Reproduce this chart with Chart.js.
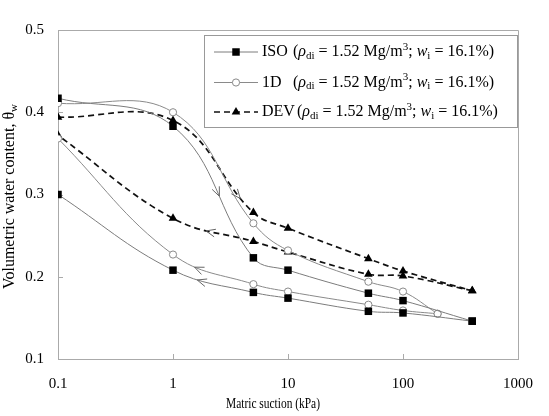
<!DOCTYPE html>
<html><head><meta charset="utf-8">
<script src="https://cdn.jsdelivr.net/npm/chart.js@4/dist/chart.umd.min.js"></script>
<style>html,body{margin:0;padding:0;background:#fff}#wrap{position:relative;width:549px;height:416px}</style>
</head><body><div id="wrap"><canvas id="c" width="549" height="416"></canvas></div>
<script>
// ---- data ----
const isoDrySuction=[0.1,1,5,10,50,100,400];
const isoDryTheta=[0.417,0.383,0.223,0.208,0.180,0.171,0.146];
const isoWetSuction=[400,100,50,10,5,1,0.1];
const isoWetTheta=[0.146,0.156,0.158,0.174,0.181,0.208,0.300];
const idDrySuction=[0.1,1,5,10,50,100,200];
const idDryTheta=[0.411,0.400,0.265,0.232,0.194,0.182,0.155];
const idWetSuction=[200,100,50,10,5,1,0.1];
const idWetTheta=[0.155,0.159,0.166,0.182,0.191,0.227,0.368];
const devDrySuction=[0.1,1,5,10,50,100,400];
const devDryTheta=[0.394,0.390,0.278,0.259,0.222,0.207,0.183];
const devWetSuction=[400,100,50,10,5,1,0.1];
const devWetTheta=[0.183,0.201,0.203,0.230,0.243,0.271,0.372];
const xTicks=[0.1,1,10,100,1000];
const yTicks=[0.1,0.2,0.3,0.4,0.5];
const seriesNames=['ISO','1D','DEV'];
const xTitle='Matric suction (kPa)';
const yTitle='Volumetric water content, θ';
const yTitleSub='w';

const FONT='"Liberation Serif","Times New Roman",serif';
const mk=(xs,ys)=>xs.map((x,i)=>({x:x,y:ys[i]}));

const styles={
  ISO:{borderColor:'#7c7c7c',borderWidth:1,borderDash:[],pointStyle:'rect',pointRadius:5.3,pointBackgroundColor:'#000',pointBorderColor:'#000',pointBorderWidth:0},
  '1D':{borderColor:'#8a8a8a',borderWidth:1,borderDash:[],pointStyle:'circle',pointRadius:3.6,pointBackgroundColor:'#fff',pointBorderColor:'#8a8a8a',pointBorderWidth:1},
  DEV:{borderColor:'#111',borderWidth:1.7,borderDash:[6,4],pointStyle:'triangle',pointRadius:5,pointBackgroundColor:'#000',pointBorderColor:'#000',pointBorderWidth:0}
};
function ds(name,xs,ys){
  return Object.assign({label:name,data:mk(xs,ys),showLine:true,tension:0.4,fill:false,pointHoverRadius:5},styles[name]);
}
const datasets=[
  ds('ISO',isoDrySuction,isoDryTheta),
  ds('ISO',isoWetSuction,isoWetTheta),
  ds('1D',idDrySuction,idDryTheta),
  ds('1D',idWetSuction,idWetTheta),
  ds('DEV',devDrySuction,devDryTheta),
  ds('DEV',devWetSuction,devWetTheta)
];

// arrows: dataset index, segment index, bezier parameter
const arrows=[
  {ds:0,seg:1,t:0.56,color:'#666'},
  {ds:4,seg:1,t:0.86,color:'#666'},
  {ds:5,seg:4,t:0.58,color:'#666'},
  {ds:1,seg:4,t:0.7,color:'#666'},
  {ds:3,seg:4,t:0.72,color:'#666'}
];

const framePlugin={
  id:'frame',
  beforeDatasetsDraw(chart){
    const {ctx,chartArea:a,scales}=chart;
    ctx.save();
    ctx.strokeStyle='#aaa';ctx.lineWidth=1;
    ctx.beginPath();
    ctx.moveTo(a.left,a.top+0.5);ctx.lineTo(a.right+0.5,a.top+0.5);ctx.lineTo(a.right+0.5,a.bottom);
    ctx.stroke();
    ctx.beginPath();
    xTicks.slice(1,-1).forEach(v=>{const x=Math.round(scales.x.getPixelForValue(v))+0.5;ctx.moveTo(x,a.bottom);ctx.lineTo(x,a.bottom-5);});
    yTicks.slice(1,-1).forEach(v=>{const y=Math.round(scales.y.getPixelForValue(v))+0.5;ctx.moveTo(a.left,y);ctx.lineTo(a.left+5,y);});
    ctx.stroke();
    ctx.restore();
  },
  afterDatasetsDraw(chart){
    const ctx=chart.ctx;
    ctx.save();
    arrows.forEach(ar=>{
      const pts=chart.getDatasetMeta(ar.ds).data;
      const p0=pts[ar.seg],p3=pts[ar.seg+1];
      const P=[[p0.x,p0.y],[p0.cp2x,p0.cp2y],[p3.cp1x,p3.cp1y],[p3.x,p3.y]];
      const t=ar.t,u=1-t;
      const bx=u*u*u*P[0][0]+3*u*u*t*P[1][0]+3*u*t*t*P[2][0]+t*t*t*P[3][0];
      const by=u*u*u*P[0][1]+3*u*u*t*P[1][1]+3*u*t*t*P[2][1]+t*t*t*P[3][1];
      const dx=3*u*u*(P[1][0]-P[0][0])+6*u*t*(P[2][0]-P[1][0])+3*t*t*(P[3][0]-P[2][0]);
      const dy=3*u*u*(P[1][1]-P[0][1])+6*u*t*(P[2][1]-P[1][1])+3*t*t*(P[3][1]-P[2][1]);
      const ang=Math.atan2(dy,dx),L=10,h=0.4;
      ctx.strokeStyle=ar.color;ctx.lineWidth=1;
      ctx.beginPath();
      ctx.moveTo(bx-L*Math.cos(ang-h),by-L*Math.sin(ang-h));
      ctx.lineTo(bx,by);
      ctx.lineTo(bx-L*Math.cos(ang+h),by-L*Math.sin(ang+h));
      ctx.stroke();
    });
    ctx.restore();
  },
  afterDraw(chart){
    const {ctx,chartArea:a}=chart;
    ctx.save();
    ctx.fillStyle='#000';
    // x title (compressed serif, as in the reference)
    ctx.font='15px '+FONT;ctx.textAlign='center';ctx.textBaseline='middle';
    const w=ctx.measureText(xTitle).width;
    ctx.save();ctx.translate(273,404);ctx.scale(94/w,1);ctx.fillText(xTitle,0,0);ctx.restore();
    // y title rotated with subscript
    ctx.save();
    ctx.translate(10,(a.top+a.bottom)/2+2);ctx.rotate(-Math.PI/2);
    ctx.font='16px '+FONT;
    const w1=ctx.measureText(yTitle).width;
    ctx.font='11px '+FONT;const w2=ctx.measureText(yTitleSub).width;
    const start=-(w1+w2)/2;
    ctx.textAlign='left';ctx.font='16px '+FONT;ctx.fillText(yTitle,start,0);
    ctx.font='11px '+FONT;ctx.fillText(yTitleSub,start+w1,4);
    ctx.restore();
    // legend
    const bx=204.5,by=35.5,bw=313,bh=92;
    ctx.fillStyle='#fff';ctx.fillRect(bx,by,bw,bh);
    ctx.strokeStyle='#999';ctx.lineWidth=1;ctx.strokeRect(bx,by,bw,bh);
    const rowsY=[52,82.5,112];
    seriesNames.forEach((name,i)=>{
      const st=styles[name];const y=rowsY[i];
      ctx.save();
      ctx.strokeStyle=st.borderColor;ctx.lineWidth=st.borderWidth;ctx.setLineDash(st.borderDash);
      ctx.beginPath();ctx.moveTo(214,y);ctx.lineTo(258,y);ctx.stroke();
      ctx.setLineDash([]);
      ctx.fillStyle=st.pointBackgroundColor;ctx.strokeStyle=st.pointBorderColor;ctx.lineWidth=st.pointBorderWidth||1;
      Chart.helpers.drawPoint(ctx,{pointStyle:st.pointStyle,radius:st.pointRadius,borderWidth:st.pointBorderWidth},236,y);
      ctx.restore();
      ctx.fillStyle='#000';ctx.textAlign='left';ctx.textBaseline='middle';
      ctx.font='16px '+FONT;
      ctx.fillText(name,262,y);
      let x=Math.max(293,262+ctx.measureText(name).width+2);
      const parts=[['(','n',0],['ρ','i',0],['di','n',4,11],[' = 1.52 Mg/m','n',0],['3','n',-5,11],['; ','n',0],['w','i',0],['i','n',4,11],[' = 16.1%)','n',0]];
      parts.forEach(p=>{
        const size=p[3]||16;
        ctx.font=(p[1]==='i'?'italic ':'')+size+'px '+FONT;
        ctx.fillText(p[0],x,y+p[2]);
        x+=ctx.measureText(p[0]).width;
      });
    });
    ctx.restore();
  }
};

new Chart(document.getElementById('c'),{
  type:'scatter',
  data:{datasets:datasets},
  options:{
    responsive:false,animation:false,
    layout:{padding:{top:30,right:27,left:0,bottom:0}},
    plugins:{legend:{display:false},tooltip:{enabled:false}},
    scales:{
      x:{type:'logarithmic',min:0.1,max:1000,
        afterBuildTicks:s=>{s.ticks=xTicks.map(v=>({value:v}));},
        afterFit:s=>{s.height=57;},
        ticks:{callback:v=>String(v),font:{family:FONT,size:15},color:'#000',padding:16,maxRotation:0,autoSkip:false},
        grid:{display:false,drawTicks:false},
        border:{display:true,color:'#aaa',width:1}},
      y:{type:'linear',min:0.1,max:0.5,
        afterBuildTicks:s=>{s.ticks=yTicks.map(v=>({value:v}));},
        afterFit:s=>{s.width=58;},
        ticks:{callback:v=>v.toFixed(1),font:{family:FONT,size:15},color:'#000',padding:14},
        grid:{display:false,drawTicks:false},
        border:{display:true,color:'#aaa',width:1}}
    }
  },
  plugins:[framePlugin]
});
</script></body></html>
